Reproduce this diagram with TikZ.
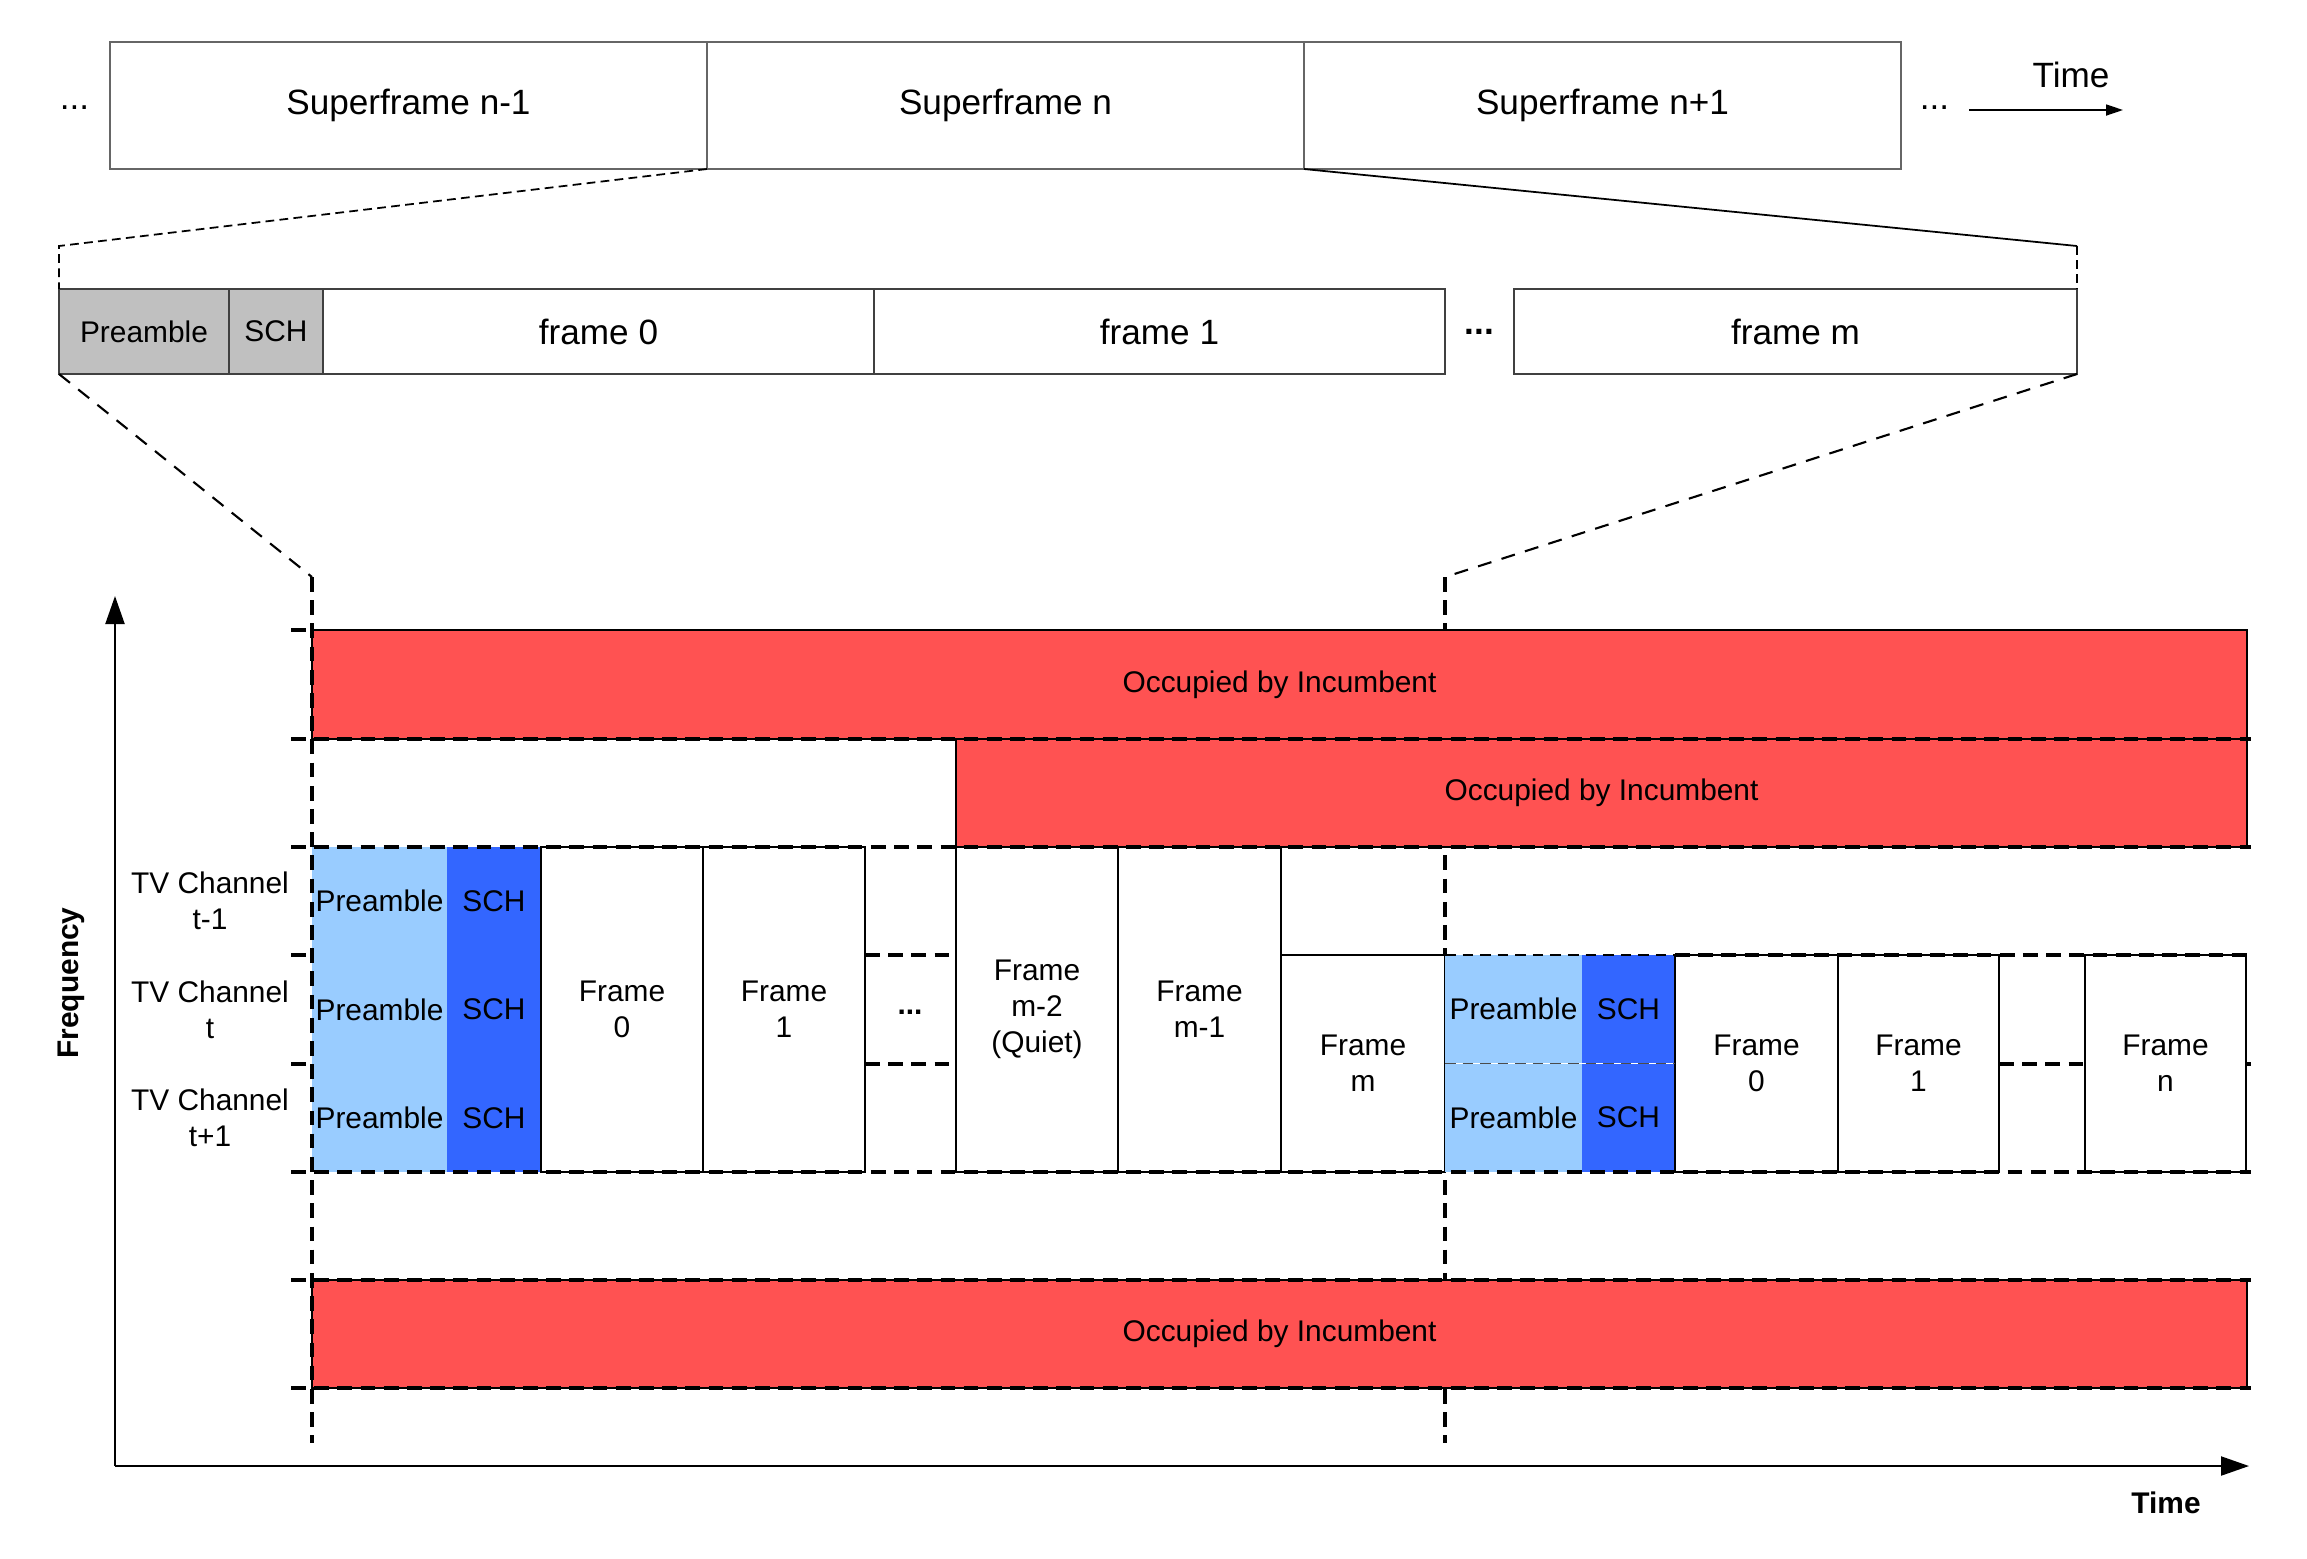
\documentclass[tikz,border=0pt]{standalone}
\usepackage{fontspec}
\setmainfont{Liberation Sans}
\usepackage{tikz}
\usetikzlibrary{arrows.meta, positioning}
\usepackage{xcolor}
\definecolor{incRed}{HTML}{FF5252}
\definecolor{preBlue}{HTML}{99CCFF}
\definecolor{schBlue}{HTML}{3366FF}
\definecolor{hdrGray}{HTML}{C0C0C0}
\newcommand{\lblbig}{\fontsize{10}{12}\selectfont}
\newcommand{\lblsmall}{\fontsize{8.5}{10.2}\selectfont}

\tikzset{
    cell/.style={inner sep=0pt, outer sep=0pt, anchor=north west, align=center},
    sfbox/.style={cell, draw=black!60, line width=0.5pt, minimum height=1.27cm, minimum width=5.97cm, font=\lblbig},
    hdrbox/.style={cell, draw=black!75, line width=0.5pt, minimum height=0.85cm, font=\lblbig},
    bandbox/.style={cell, fill=incRed, draw=black, line width=0.7pt, font=\lblsmall},
    prebox/.style={cell, fill=preBlue, minimum width=1.35cm, minimum height=1.083cm, font=\lblsmall},
    schbox/.style={cell, fill=schBlue, minimum width=0.94cm, minimum height=1.083cm, font=\lblsmall},
    frbox/.style={cell, fill=white, draw=black, line width=0.5pt, font=\lblsmall},
    gridline/.style={line width=1pt, dash pattern=on 4.2pt off 2.4pt},
    thindash/.style={line width=0.45pt, dash pattern=on 3pt off 2pt},
    zoomline/.style={line width=0.5pt, dash pattern=on 2.5pt off 1.5pt},
    slantline/.style={line width=0.6pt, dash pattern=on 4pt off 3pt},
    axisline/.style={line width=0.6pt, -{Triangle[length=0.28cm, width=0.19cm]}},
}

\begin{document}
\begin{tikzpicture}
    \useasboundingbox (0,0) rectangle (23.07,-15.58);

    % Superframes
    \node[sfbox] (sfA) at (1.10,-0.42) {Superframe n-1};
    \node[sfbox, right=0pt of sfA] (sfB) {Superframe n};
    \node[sfbox, right=0pt of sfB] (sfC) {Superframe n+1};
    \node[font=\lblbig] (dotsL) at (0.745,-1.08) {...};
    \node[font=\lblbig] (dotsR) at (19.345,-1.08) {...};
    \coordinate (arrS) at (19.69,-1.10);
    \coordinate (arrE) at (21.23,-1.10);
    \draw[line width=0.5pt, -{Triangle[length=0.17cm, width=0.11cm]}] (arrS) -- (arrE);
    \node[font=\lblbig] (timeTop) at (20.71,-0.75) {Time};

    % Frames of superframe n
    \node[hdrbox, fill=hdrGray, minimum width=1.70cm, font=\lblsmall] (hPre) at (0.59,-2.89) {Preamble};
    \node[hdrbox, fill=hdrGray, minimum width=0.94cm, font=\lblsmall, right=0pt of hPre] (hSch) {SCH};
    \node[hdrbox, minimum width=5.51cm, right=0pt of hSch] (hF0) {frame 0};
    \node[hdrbox, minimum width=5.71cm, right=0pt of hF0] (hF1) {frame 1};
    \node[hdrbox, minimum width=5.63cm] (hFm) at (15.14,-2.89) {frame m};
    \node[font={\lblbig\bfseries}] (hDots) at (14.795,-3.315) {...};

    % Zoom lines
    \coordinate (zA) at (0.59,-2.46);
    \coordinate (zB) at (20.77,-2.46);
    \coordinate (zC) at (3.12,-5.77);
    \coordinate (zD) at (14.45,-5.77);
    \coordinate (zE) at (3.12,-14.43);
    \coordinate (zF) at (14.45,-14.43);
    \draw[zoomline] (sfB.south west) -- (zA) -- (hPre.north west);
    \draw[line width=0.5pt] (sfB.south east) -- (zB);
    \draw[zoomline] (zB) -- (hFm.north east);
    \draw[slantline] (hPre.south west) -- (zC);
    \draw[slantline] (hFm.south east) -- (zD);
    \draw[gridline] (zD) -- (zF);

    % Incumbent bands
    \node[bandbox, minimum width=19.35cm, minimum height=1.09cm] (incA) at (3.12,-6.30) {Occupied by Incumbent};
    \node[bandbox, minimum width=12.91cm, minimum height=1.08cm] (incB) at (9.56,-7.39) {Occupied by Incumbent};
    \node[bandbox, minimum width=19.35cm, minimum height=1.08cm] (incC) at (3.12,-12.80) {Occupied by Incumbent};

    % Superframe n on three channels
    \node[prebox] (pA1) at (3.12,-8.47) {Preamble};
    \node[prebox, below=0pt of pA1] (pA2) {Preamble};
    \node[prebox, below=0pt of pA2] (pA3) {Preamble};
    \node[schbox, right=0pt of pA1] (sA1) {SCH};
    \node[schbox, right=0pt of pA2] (sA2) {SCH};
    \node[schbox, right=0pt of pA3] (sA3) {SCH};
    \node[frbox, minimum width=1.62cm, minimum height=3.25cm] (fA0) at (5.41,-8.47) {Frame\\0};
    \node[frbox, minimum width=1.62cm, minimum height=3.25cm, right=0pt of fA0] (fA1) {Frame\\1};
    \node[frbox, minimum width=1.62cm, minimum height=3.25cm] (fAq) at (9.56,-8.47) {Frame\\m-2\\(Quiet)};
    \node[frbox, minimum width=1.63cm, minimum height=3.25cm, right=0pt of fAq] (fAp) {Frame\\m-1};
    \node[frbox, minimum width=1.64cm, minimum height=2.17cm] (fAm) at (12.81,-9.55) {Frame\\m};
    \node[font={\lblsmall\bfseries}] (gDots) at (9.10,-10.12) {...};

    % Next superframe on two channels
    \node[prebox, minimum width=1.37cm] (pB1) at (14.45,-9.55) {Preamble};
    \node[prebox, minimum width=1.37cm, below=0pt of pB1] (pB2) {Preamble};
    \node[schbox, minimum width=0.93cm, right=0pt of pB1] (sB1) {SCH};
    \node[schbox, minimum width=0.93cm, right=0pt of pB2] (sB2) {SCH};
    \node[frbox, minimum width=1.63cm, minimum height=2.17cm] (fB0) at (16.75,-9.55) {Frame\\0};
    \node[frbox, minimum width=1.61cm, minimum height=2.17cm, right=0pt of fB0] (fB1) {Frame\\1};
    \node[frbox, minimum width=1.61cm, minimum height=2.17cm] (fBn) at (20.85,-9.55) {Frame\\n};

    % Channel grid
    \foreach \y in {-7.39,-8.47,-11.72,-12.80,-13.88} {
        \draw[gridline] (2.91,\y) -- (22.51,\y);
    }
    \foreach \y in {-6.30,-9.55,-10.64} {
        \draw[gridline] (2.91,\y) -- (3.12,\y);
    }
    \draw[gridline] (fA1.east |- 0,-9.55) -- (fAq.west |- 0,-9.55);
    \draw[gridline] (fA1.east |- 0,-10.64) -- (fAq.west |- 0,-10.64);
    \draw[thindash] (pB1.north west) -- (sB1.north east);
    \draw[gridline] (sB1.north east) -- (22.51,-9.55);
    \draw[gridline] (fB1.east |- 0,-10.64) -- (fBn.west |- 0,-10.64);
    \draw[gridline] (fBn.east |- 0,-10.64) -- (22.51,-10.64);
    \draw[white, line width=0.45pt] (pB2.north west) -- (sB2.north east);
    \draw[thindash, black!70] (pB2.north west) -- (sB2.north east);
    \draw[gridline] (zC) -- (zE);

    % Channel labels
    \node[font=\lblsmall, align=center] (chA) at (2.10,-9.01) {TV Channel\\t-1};
    \node[font=\lblsmall, align=center] (chB) at (2.10,-10.095) {TV Channel\\t};
    \node[font=\lblsmall, align=center] (chC) at (2.10,-11.18) {TV Channel\\t+1};

    % Axes
    \coordinate (org) at (1.15,-14.66);
    \coordinate (fTip) at (1.15,-5.96);
    \coordinate (tTip) at (22.49,-14.66);
    \draw[axisline] (org) -- (fTip);
    \draw[axisline] (org) -- (tTip);
    \node[font={\lblsmall\bfseries}, rotate=90] (freqLbl) at (0.71,-9.83) {Frequency};
    \node[font={\lblsmall\bfseries}] (timeLbl) at (21.66,-15.03) {Time};
\end{tikzpicture}
\end{document}
